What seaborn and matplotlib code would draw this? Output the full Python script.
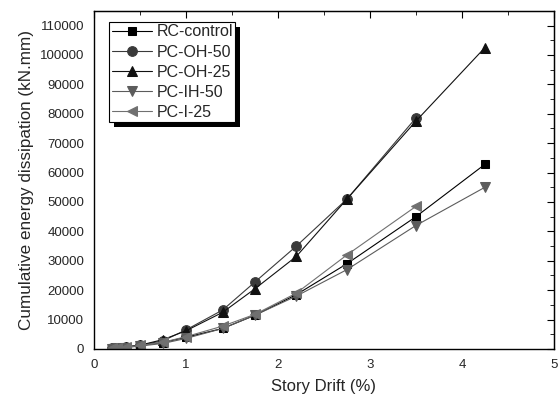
import numpy as np
import pandas as pd
import seaborn as sns
import matplotlib
matplotlib.use("Agg")
import matplotlib.pyplot as plt
from matplotlib.ticker import MultipleLocator
from matplotlib.patches import Rectangle

# story drift levels (%)
drift = [0.2, 0.25, 0.35, 0.5, 0.75, 1.0, 1.4, 1.75, 2.2, 2.75, 3.5, 4.25]

# cumulative energy dissipation (kN.mm)
rc_control = [200, 400, 600, 1200, 2200, 4000, 7000, 11500, 18500, 29000, 45000, 62800]
pc_oh_50 = [200, 400, 700, 1300, 2800, 6500, 13300, 22800, 35000, 51000, 78600]
pc_oh_25 = [200, 400, 700, 1300, 3200, 6200, 12500, 20500, 31500, 51000, 77500, 102500]
pc_ih_50 = [150, 300, 500, 1000, 1900, 3600, 7000, 11500, 18000, 27000, 42000, 55000]
pc_i_25 = [200, 400, 600, 1200, 2300, 4200, 7800, 11800, 19000, 32000, 48500]

series = {
    "RC-control": rc_control,
    "PC-OH-50": pc_oh_50,
    "PC-OH-25": pc_oh_25,
    "PC-IH-50": pc_ih_50,
    "PC-I-25": pc_i_25,
}
colors = {"RC-control": "#000000", "PC-OH-50": "#3a3a3a", "PC-OH-25": "#111111",
          "PC-IH-50": "#5c5c5c", "PC-I-25": "#707070"}
markers = {"RC-control": "s", "PC-OH-50": "o", "PC-OH-25": "^",
           "PC-IH-50": "v", "PC-I-25": "<"}
sizes = {"RC-control": 6, "PC-OH-50": 7, "PC-OH-25": 7, "PC-IH-50": 7, "PC-I-25": 7}

frames = []
for name, vals in series.items():
    frames.append(pd.DataFrame({"drift": drift[:len(vals)], "energy": vals, "specimen": name}))
df = pd.concat(frames, ignore_index=True)

sns.set_style("white")
plt.rcParams['font.family'] = ['Liberation Sans', 'DejaVu Sans']

fig = plt.figure(figsize=(5.6, 4.03), dpi=100)
ax = fig.add_axes([0.168, 0.134, 0.821, 0.839])

for name in series:
    sub = df[df["specimen"] == name]
    sns.lineplot(data=sub, x="drift", y="energy", ax=ax, color=colors[name],
                 marker=markers[name], markersize=sizes[name], mec=colors[name],
                 mfc=colors[name], linewidth=0.8, sort=False, estimator=None,
                 label=name)

ax.set_xlim(0, 5)
ax.set_ylim(0, 115000)
ax.xaxis.set_major_locator(MultipleLocator(1))
ax.xaxis.set_minor_locator(MultipleLocator(0.5))
ax.yaxis.set_major_locator(MultipleLocator(10000))
ax.yaxis.set_minor_locator(MultipleLocator(5000))
ax.tick_params(which="both", direction="out", labelsize=9.5, width=1, color="black", pad=2)
ax.tick_params(which="major", length=5)
ax.tick_params(which="minor", length=3)
for sp in ax.spines.values():
    sp.set_color("black")
    sp.set_linewidth(1)

top = ax.secondary_xaxis("top")
top.xaxis.set_major_locator(MultipleLocator(1))
top.xaxis.set_minor_locator(MultipleLocator(0.5))
top.tick_params(which="both", direction="in", labeltop=False, color="black")
top.tick_params(which="major", length=5)
top.tick_params(which="minor", length=3)
right = ax.secondary_yaxis("right")
right.yaxis.set_major_locator(MultipleLocator(10000))
right.yaxis.set_minor_locator(MultipleLocator(5000))
right.tick_params(which="both", direction="in", labelright=False, color="black")
right.tick_params(which="major", length=5)
right.tick_params(which="minor", length=3)

ax.set_xlabel("Story Drift (%)", fontsize=12, labelpad=6)
ax.set_ylabel("Cumulative energy dissipation (kN.mm)", fontsize=12.3, labelpad=4)

leg = ax.legend(loc="upper left", bbox_to_anchor=(0.033, 0.967), borderaxespad=0,
                fontsize=11.5, frameon=True, fancybox=False, framealpha=1,
                handlelength=2.5, handletextpad=0.3, labelspacing=0.32, borderpad=0.15)
leg.get_frame().set_edgecolor("black")
leg.get_frame().set_linewidth(0.8)
leg.set_zorder(6)

# solid drop shadow, offset a few pixels down-right
fig.canvas.draw()
bb = leg.get_window_extent()
ax.add_patch(Rectangle((bb.x0 + 5, bb.y0 - 5), bb.width, bb.height, transform=None,
                       facecolor="black", edgecolor="none", zorder=5.9, clip_on=False))

fig.savefig("out.png", dpi=100)
